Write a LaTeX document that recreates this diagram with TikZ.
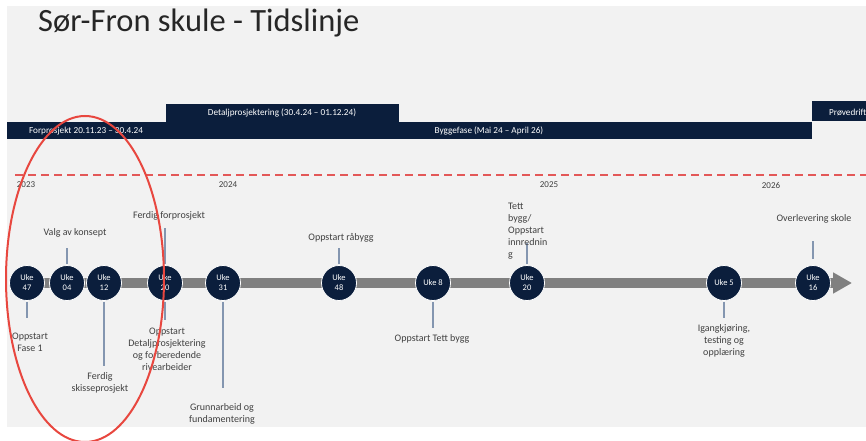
\documentclass[tikz,border=0pt]{standalone}
\usepackage{fontspec}
\setmainfont{Carlito}
\usetikzlibrary{arrows.meta}

\definecolor{navy}{HTML}{0B1E3C}
\definecolor{bggray}{HTML}{F2F2F2}
\definecolor{bargray}{HTML}{808080}
\definecolor{stemblue}{HTML}{8496B0}
\definecolor{txtgray}{HTML}{404040}
\definecolor{ringred}{HTML}{E8473F}
\definecolor{dashred}{HTML}{E35858}

\tikzset{
    uke/.style={circle,fill=navy,draw=white,line width=.8pt,minimum size=35pt,inner sep=0pt,
                text=white,align=center,font=\fontsize{8.5}{10}\selectfont},
    milestone/.style={text=txtgray,align=center,inner sep=0pt,font=\fontsize{10}{12}\selectfont},
    stem/.style={draw=stemblue,line width=1.4pt},
    phasetext/.style={text=white,inner sep=0pt,font=\fontsize{9.2}{10}\selectfont},
    yeartext/.style={text=txtgray,inner sep=0pt,font=\fontsize{9}{10}\selectfont}
}

\begin{document}
\begin{tikzpicture}[x=1pt,y=-1pt]
    \useasboundingbox (0,0) rectangle (866,441);
    \fill [bggray] (7,6) rectangle (866,427);

    \node [anchor=base west,inner sep=0pt,text=black!85,font=\fontsize{32.5}{38}\selectfont] (title) at (38,32) {Sør-Fron skule - Tidslinje};

    \fill [navy] (166,104) rectangle (399,122);
    \fill [navy] (7,122) rectangle (812,139);
    \fill [navy] (812,101) rectangle (866,121);
    \node [phasetext] (forprosjekt) at (86,131) {Forprosjekt 20.11.23 – 30.4.24};
    \node [phasetext] (detalj) at (282,113) {Detaljprosjektering (30.4.24 – 01.12.24)};
    \node [phasetext] (byggefase) at (489,131) {Byggefase (Mai 24 – April 26)};
    \node [phasetext,anchor=west] (provedrift) at (829,112) {Prøvedrift};

    \draw [dashred,line width=1.2pt,dash pattern=on 8pt off 5pt] (15,175) -- (866,175);
    \foreach \yr/\x in {2023/26,2024/228,2025/549,2026/771}
        \node [yeartext] (y\yr) at (\x,185) {\yr};

    \coordinate (start) at (27,283);
    \coordinate (tip) at (852,283);
    \draw [bargray,line width=10pt,-{Triangle[length=19pt,width=20pt]}] (start) -- (tip);

    \foreach \name/\x/\txt in {u47/27/{Uke\\47},u04/67/{Uke\\04},u12/104/{Uke\\12},u20a/165/{Uke\\20},
                              u31/223/{Uke\\31},u48/339/{Uke\\48},u8/433/{Uke 8},u20b/527/{Uke\\20},
                              u5/724/{Uke 5},u16/813/{Uke\\16}}
        \node [uke] (\name) at (\x,283) {\txt};

    \foreach \c/\a/\y/\g in {u47/south/318/1,u04/north/248/1,u12/south/366/1,u20a/north/228/1,
                             u20a/south/320/1,u31/south/388/1,u48/north/248/1,u8/south/328/1,
                             u20b/north/243/1,u5/south/318/1,u16/north/241/6}{
        \coordinate (\c-\a-end) at (\c.\a |- 0,\y);
        \draw [stem,shorten <=\g pt] (\c.\a) -- (\c-\a-end);
    }

    \node [milestone] (oppstart) at (30,342) {Oppstart\\Fase 1};
    \node [milestone] (konsept) at (75,233) {Valg av konsept};
    \node [milestone] (skisse) at (100,383) {Ferdig\\skisseprosjekt};
    \node [milestone] (ferdigfor) at (169,216) {Ferdig forprosjekt};
    \node [milestone] (detaljstart) at (167,349) {Oppstart\\Detaljprosjektering\\og forberedende\\rivearbeider};
    \node [milestone] (grunnarbeid) at (222,414) {Grunnarbeid og\\fundamentering};
    \node [milestone] (raabygg) at (341,238) {Oppstart råbygg};
    \node [milestone] (tettbygg) at (432,339) {Oppstart Tett bygg};
    \node [milestone,align=left,anchor=north west] (innredning) at (508,203) {Tett\\bygg/\\Oppstart\\innrednin\\g};
    \node [milestone] (igang) at (724,341) {Igangkjøring,\\testing og\\opplæring};
    \node [milestone] (overlevering) at (814,219) {Overlevering skole};

    \draw [ringred,line width=2pt] (85,279) ellipse [x radius=79,y radius=163];
\end{tikzpicture}
\end{document}
